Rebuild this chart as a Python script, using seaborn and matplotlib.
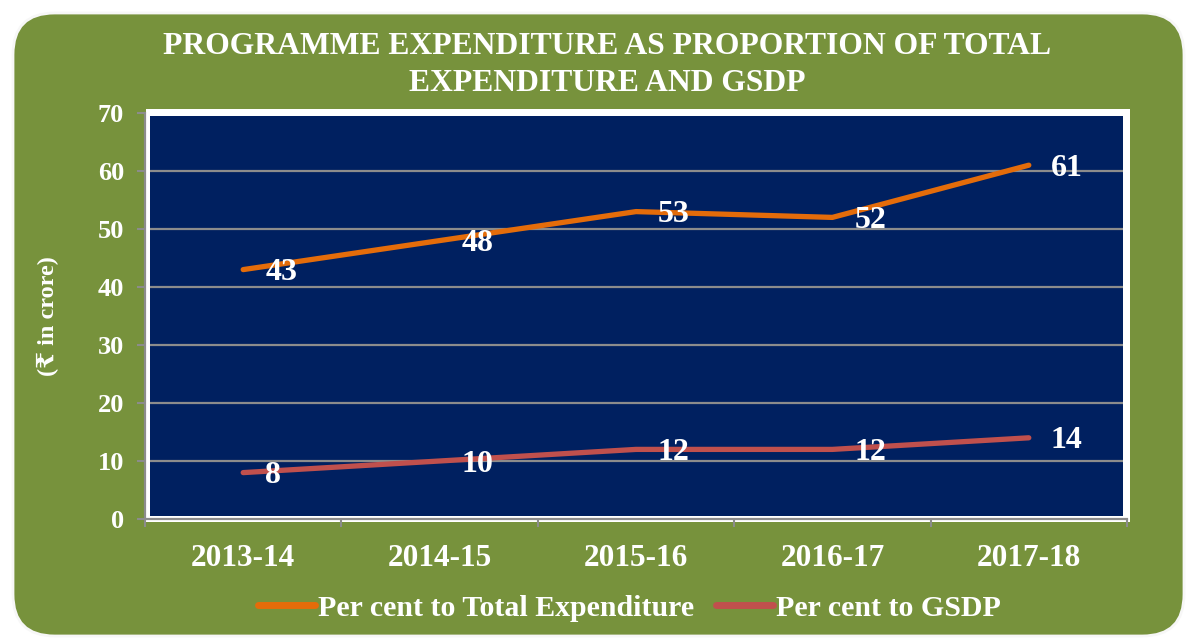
import matplotlib
matplotlib.use("Agg")
import matplotlib.pyplot as plt
from matplotlib.patches import FancyBboxPatch, Rectangle
import seaborn as sns
import pandas as pd

# --- data ---
years = ['2013-14', '2014-15', '2015-16', '2016-17', '2017-18']
pct_total_exp = [43, 48, 53, 52, 61]
pct_gsdp = [8, 10, 12, 12, 14]
series_names = ['Per cent to Total Expenditure', 'Per cent to GSDP']

df = pd.DataFrame({
    'Year': years * 2,
    'Value': pct_total_exp + pct_gsdp,
    'Series': [series_names[0]] * len(years) + [series_names[1]] * len(years),
})

GREEN = '#77923C'
NAVY = '#002060'
ORANGE = '#E46C0A'
RED = '#C0504D'
GRID = '#8C8C8C'

sns.set_style('white')
plt.rcParams['font.family'] = ['Liberation Serif', 'DejaVu Serif', 'DejaVu Sans']
plt.rcParams['font.weight'] = 'bold'

W, H = 1192, 639
fig = plt.figure(figsize=(W / 100, H / 100), dpi=100, facecolor='white')

def fx(px):
    return px / W

def fy(py):
    return 1 - py / H

# rounded green panel
panel = FancyBboxPatch((fx(13), fy(636)), fx(1184) - fx(13), fy(13) - fy(636),
                       boxstyle='round,pad=0,rounding_size=0.035',
                       transform=fig.transFigure, facecolor=GREEN,
                       edgecolor='#F7F7F7', linewidth=2, mutation_aspect=W / H, zorder=0)
fig.patches.append(panel)

# white frame and navy plot area
frame = Rectangle((fx(146), fy(522)), fx(1130) - fx(146), fy(109) - fy(522),
                  transform=fig.transFigure, facecolor='white', edgecolor='none', zorder=1)
navy = Rectangle((fx(150), fy(516)), fx(1123) - fx(150), fy(116) - fy(516),
                 transform=fig.transFigure, facecolor=NAVY, edgecolor='none', zorder=2)
fig.patches.append(frame)
fig.patches.append(navy)

ax = fig.add_axes([fx(145), fy(519), fx(1127) - fx(145), fy(113) - fy(519)])
ax.set_facecolor('none')
ax.set_zorder(3)

sns.lineplot(data=df, x='Year', y='Value', hue='Series', palette=[ORANGE, RED],
             linewidth=3.8, ax=ax, legend=False, sort=False)
for ln in ax.get_lines():
    ln.set_solid_capstyle('round')

ax.set_xlim(-0.5, 4.5)
ax.set_ylim(0, 70)
ax.set_yticks(range(0, 71, 10))
ax.set_xticks(range(len(years)))
ax.set_xticklabels(years)
ax.set_xticks([i - 0.5 for i in range(len(years) + 1)], minor=True)

ax.yaxis.grid(True, color=GRID, linewidth=1.6)
for gl in ax.get_ygridlines():
    gl.set_clip_path(navy)
ax.xaxis.grid(False)

for side in ['top', 'right']:
    ax.spines[side].set_visible(False)
for side in ['left', 'bottom']:
    ax.spines[side].set_color(GRID)
    ax.spines[side].set_linewidth(1.6)

ax.tick_params(axis='y', which='major', length=6, width=1.5, color=GRID, left=True,
               labelsize=19, labelcolor='white', pad=9)
ax.tick_params(axis='x', which='major', length=0, labelsize=22.5, labelcolor='white', pad=18)
ax.tick_params(axis='x', which='minor', length=6, width=1.5, color=GRID, bottom=True)
for lbl in ax.get_xticklabels() + ax.get_yticklabels():
    lbl.set_fontweight('bold')

ax.set_xlabel('')
ax.set_ylabel('(₹ in crore)', fontsize=17.5, fontweight='bold', color='white', labelpad=28)

# data labels to the right of each point
for vals in [pct_total_exp, pct_gsdp]:
    for i, v in enumerate(vals):
        ax.annotate(str(v), (i, v), xytext=(22, -3), textcoords='offset pixels',
                    ha='left', va='center', fontsize=23, fontweight='bold', color='white')

fig.text(0.5096, fy(65), 'PROGRAMME EXPENDITURE AS PROPORTION OF TOTAL\nEXPENDITURE AND GSDP',
         ha='center', va='center', fontsize=22.8, fontweight='bold', color='white',
         linespacing=1.38)

handles = ax.get_lines()[:2]
leg = fig.legend(handles, series_names, loc='center', bbox_to_anchor=(0.528, fy(608)),
                 ncol=2, frameon=False, fontsize=21.5, handlelength=1.9, handletextpad=0.1,
                 columnspacing=0.75)
for t in leg.get_texts():
    t.set_color('white')
    t.set_fontweight('bold')
for h in leg.legend_handles:
    h.set_linewidth(5)

fig.savefig('out.png', dpi=100, facecolor='white')
